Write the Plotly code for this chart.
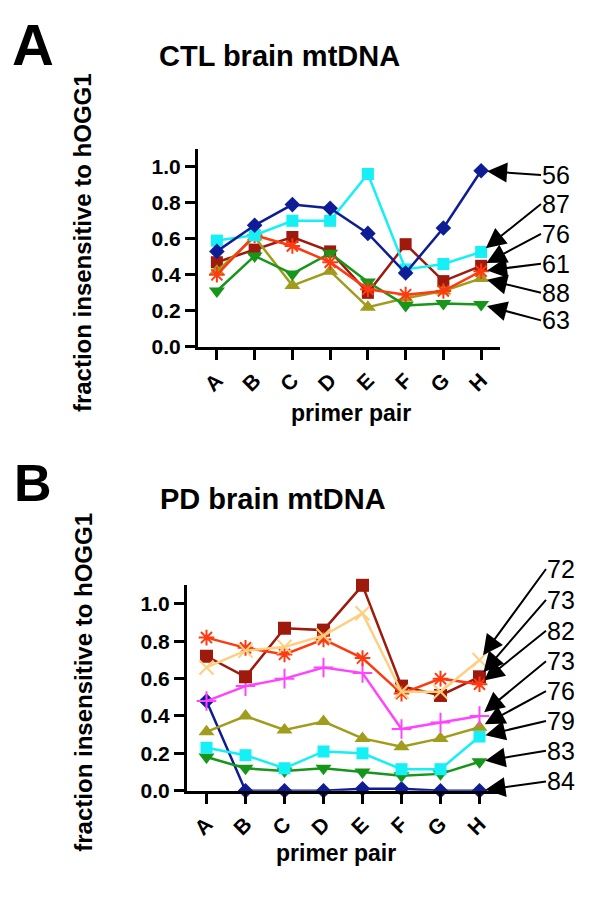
import plotly.graph_objects as go

W, H = 600, 906

primers = ["A", "B", "C", "D", "E", "F", "G", "H"]

# panel A: CTL brain mtDNA
ctl_56 = [0.53, 0.675, 0.79, 0.77, 0.63, 0.41, 0.66, 0.978]
ctl_87 = [0.59, 0.62, 0.70, 0.70, 0.96, 0.43, 0.46, 0.527]
ctl_76 = [0.47, 0.54, 0.61, 0.53, 0.30, 0.57, 0.365, 0.45]
ctl_61 = [0.40, 0.62, 0.56, 0.47, 0.32, 0.29, 0.31, 0.42]
ctl_88 = [0.42, 0.61, 0.34, 0.42, 0.22, 0.27, 0.31, 0.38]
ctl_63 = [0.31, 0.505, 0.405, 0.52, 0.36, 0.23, 0.24, 0.235]

# panel B: PD brain mtDNA
pd_72 = [0.66, 0.75, 0.77, 0.83, 0.95, 0.53, 0.53, 0.70]
pd_73a = [0.72, 0.61, 0.87, 0.86, 1.10, 0.56, 0.51, 0.61]
pd_82 = [0.82, 0.765, 0.73, 0.81, 0.71, 0.52, 0.60, 0.57]
pd_73b = [0.48, 0.56, 0.60, 0.66, 0.63, 0.33, 0.365, 0.40]
pd_76 = [0.315, 0.40, 0.325, 0.37, 0.28, 0.235, 0.28, 0.34]
pd_79 = [0.23, 0.19, 0.12, 0.21, 0.20, 0.115, 0.115, 0.29]
pd_83 = [0.18, 0.12, 0.105, 0.12, 0.10, 0.08, 0.09, 0.155]
pd_84 = [0.48, 0.0, 0.0, 0.0, 0.01, 0.01, 0.0, 0.0]

NAVY = "#0e1d96"
CYAN = "#14f0f5"
DKRED = "#9e1a0c"
RED = "#ff3a10"
OLIVE = "#a09d1c"
GREEN = "#16961a"
PEACH = "#ffcf80"
MAGENTA = "#ff44ff"

FONT = "Liberation Sans, Arial, sans-serif"
Y_MAX = 1.1

# plot areas in page pixels: left, right, bottom, top
BOX_A = (190, 492, 343, 142.5)
BOX_B = (179, 491, 792.3, 584.4)


def px(x):
    return x / W


def py(y):
    return 1 - y / H


# (label, values, colour, symbol, size) in draw order
ctl_series = [
    ("76", ctl_76, DKRED, "square", 12),
    ("88", ctl_88, OLIVE, "triangle-up", 14),
    ("63", ctl_63, GREEN, "triangle-down", 14),
    ("61", ctl_61, RED, "asterisk-open", 13),
    ("87", ctl_87, CYAN, "square", 12),
    ("56", ctl_56, NAVY, "diamond", 12),
]
pd_series = [
    ("84", pd_84, NAVY, "diamond", 12),
    ("83", pd_83, GREEN, "triangle-down", 14),
    ("79", pd_79, CYAN, "square", 12),
    ("76", pd_76, OLIVE, "triangle-up", 14),
    ("73", pd_73b, MAGENTA, "cross-thin-open", 14),
    ("73", pd_73a, DKRED, "square", 13),
    ("82", pd_82, RED, "asterisk-open", 13),
    ("72", pd_72, PEACH, "x-thin-open", 14),
]

# right-hand labels: text, series, label centre y (px)
ctl_labels = [
    ("56", ctl_56, 169),
    ("87", ctl_87, 199),
    ("76", ctl_76, 229),
    ("61", ctl_61, 259),
    ("88", ctl_88, 288),
    ("63", ctl_63, 316),
]
pd_labels = [
    ("72", pd_72, 569),
    ("73", pd_73a, 600),
    ("82", pd_82, 631),
    ("73", pd_73b, 662),
    ("76", pd_76, 692),
    ("79", pd_79, 722),
    ("83", pd_83, 752),
    ("84", pd_84, 783),
]

fig = go.Figure()


def add_panel(series, xa, ya):
    for name, vals, color, symbol, size in series:
        open_sym = symbol.endswith("open")
        fig.add_trace(go.Scatter(
            x=primers, y=vals, mode="lines+markers", name=name,
            xaxis=xa, yaxis=ya, showlegend=False, cliponaxis=False,
            line=dict(color=color, width=2.5),
            marker=dict(symbol=symbol, size=size, color=color,
                        line=dict(color=color, width=2 if open_sym else 0)),
        ))


add_panel(ctl_series, "x", "y")
add_panel(pd_series, "x2", "y2")

annotations = []


def add_labels(labels, xa, ya, box, text_x):
    left, right, bottom, top = box
    # pixel position of the last category (H) on this axis
    hx = left + (len(primers) - 0.5) / len(primers) * (right - left)
    for text, vals, ly in labels:
        hy = bottom - vals[-1] / Y_MAX * (bottom - top)
        annotations.append(dict(
            x=primers[-1], y=vals[-1], xref=xa, yref=ya, text=text,
            showarrow=True, ax=text_x - hx, ay=ly - hy,
            xanchor="left", yanchor="middle",
            arrowhead=2, arrowsize=2.0, arrowwidth=2,
            arrowcolor="black", standoff=6, borderpad=0,
            font=dict(family=FONT, size=25, color="black"),
        ))


add_labels(ctl_labels, "x", "y", BOX_A, 533)
add_labels(pd_labels, "x2", "y2", BOX_B, 538)

bold = dict(family=FONT, color="black", weight="bold")
texts = [
    ("A", 25, 37, 58, 0),
    ("CTL brain mtDNA", 271, 49, 29, 0),
    ("fraction insensitive to hOGG1", 74, 238, 24, -90),
    ("primer pair", 343, 410, 23, 0),
    ("B", 25, 481, 52, 0),
    ("PD brain mtDNA", 265, 497, 29, 0),
    ("fraction insensitive to hOGG1", 76, 683, 24, -90),
    ("primer pair", 328, 855, 23, 0),
]
for text, x, y, size, angle in texts:
    annotations.append(dict(
        x=px(x), y=py(y), xref="paper", yref="paper", text=text,
        showarrow=False, xanchor="center", yanchor="middle", textangle=angle,
        font=dict(bold, size=size),
    ))

axis_common = dict(
    showline=True, linewidth=3, linecolor="black", mirror=False,
    ticks="outside", ticklen=10, tickwidth=2.5, tickcolor="black",
    showgrid=False, zeroline=False,
    tickfont=dict(bold, size=21),
)
yticks = [0, 0.2, 0.4, 0.6, 0.8, 1.0]

fig.update_layout(
    width=W, height=H,
    margin=dict(l=0, r=0, t=0, b=0),
    paper_bgcolor="white", plot_bgcolor="white",
    font=dict(family=FONT, color="black"),
    xaxis=dict(axis_common, domain=[px(BOX_A[0]), px(BOX_A[1])], anchor="y",
               type="category", range=[-0.5, 7.5], tickangle=-45),
    yaxis=dict(axis_common, domain=[py(BOX_A[2]), py(BOX_A[3])], anchor="x",
               range=[0, Y_MAX], tickvals=yticks, tickformat=".1f"),
    xaxis2=dict(axis_common, domain=[px(BOX_B[0]), px(BOX_B[1])], anchor="y2",
                type="category", range=[-0.5, 7.5], tickangle=-45),
    yaxis2=dict(axis_common, domain=[py(BOX_B[2]), py(BOX_B[3])], anchor="x2",
                range=[0, Y_MAX], tickvals=yticks, tickformat=".1f"),
    annotations=annotations,
)

fig.write_html("out.html")
